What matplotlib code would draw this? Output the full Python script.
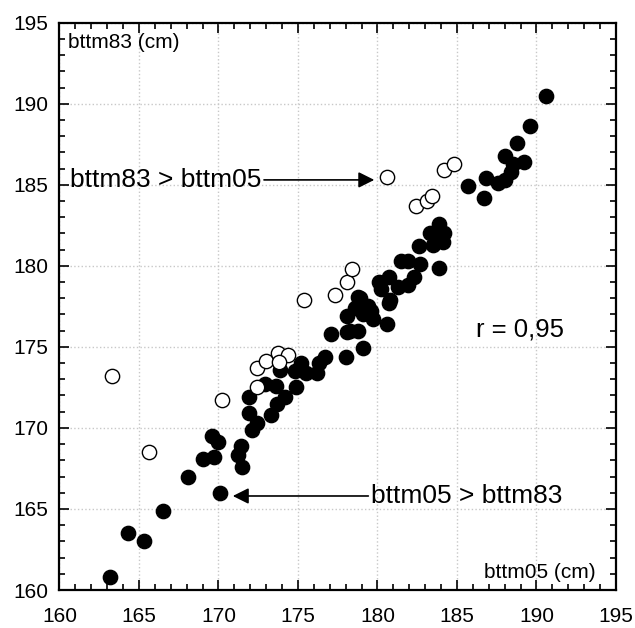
import numpy as np
import matplotlib
matplotlib.use("Agg")
import matplotlib.pyplot as plt
from matplotlib.ticker import MultipleLocator

plt.rcParams['font.family'] = ['Liberation Sans', 'DejaVu Sans']

# filled circles: bttm05 (x) vs bttm83 (y)
filled_x = [163.2, 164.3, 165.3, 166.5, 168.1, 170.1, 169.0, 169.7, 169.6, 170.0,
            171.4, 171.2, 171.5, 171.9, 171.9, 172.4, 172.1, 172.9, 173.6, 174.2,
            173.7, 173.3, 173.9, 174.85, 174.8, 175.2, 175.5, 176.2, 176.3, 176.7,
            177.1, 178.0, 178.1, 178.1, 179.1, 180.6, 178.25, 178.8, 178.6, 178.9,
            179.1, 179.6, 179.7, 179.4, 180.8, 180.7, 180.1, 180.2, 180.7, 181.3,
            181.9, 182.3, 181.5, 181.9, 182.65, 183.9, 182.6, 183.5, 184.1, 183.9,
            184.2, 183.3, 183.75, 185.7, 186.7, 186.8, 187.6, 188.0, 188.4, 188.5,
            188.0, 189.2, 188.8, 189.6, 190.6, 178.8]
filled_y = [160.8, 163.5, 163.0, 164.9, 167.0, 166.0, 168.1, 168.2, 169.5, 169.1,
            168.9, 168.3, 167.6, 171.9, 170.9, 170.3, 169.9, 172.7, 172.6, 171.9,
            171.5, 170.8, 173.6, 172.5, 173.5, 174.0, 173.4, 173.4, 174.0, 174.4,
            175.8, 174.4, 175.9, 176.9, 174.9, 176.4, 176.0, 176.0, 177.4, 178.0,
            177.0, 177.2, 176.7, 177.5, 177.9, 177.7, 179.0, 178.6, 179.3, 178.7,
            178.8, 179.3, 180.3, 180.3, 180.1, 179.85, 181.2, 181.3, 181.5, 182.6,
            182.0, 182.05, 181.6, 184.9, 184.2, 185.4, 185.1, 185.3, 185.8, 186.3,
            186.8, 186.4, 187.6, 188.6, 190.45, 178.1]

# open circles: bttm83 > bttm05
open_x = [163.3, 165.6, 170.2, 172.4, 172.4, 173.0, 173.75, 174.4, 173.8, 175.4,
          177.3, 178.1, 178.4, 180.6, 182.45, 183.1, 183.45, 184.2, 184.8]
open_y = [173.2, 168.5, 171.7, 172.5, 173.7, 174.1, 174.65, 174.5, 174.05, 177.9,
          178.2, 179.0, 179.8, 185.5, 183.7, 184.0, 184.3, 185.9, 186.3]

r_text = "r = 0,95"

fig = plt.figure(figsize=(6.35, 6.28), dpi=100)
ax = fig.add_axes([0.0937, 0.0605, 0.8763, 0.9034])

ax.plot(filled_x, filled_y, 'o', ms=10.3, mfc='black', mec='black', zorder=3)
ax.plot(open_x, open_y, 'o', ms=10.3, mfc='white', mec='black', mew=1.0, zorder=3)

ax.set_xlim(160, 195)
ax.set_ylim(160, 195)
ax.xaxis.set_major_locator(MultipleLocator(5))
ax.yaxis.set_major_locator(MultipleLocator(5))
ax.xaxis.set_minor_locator(MultipleLocator(1))
ax.yaxis.set_minor_locator(MultipleLocator(1))
ax.tick_params(which='both', direction='in', top=True, right=True, width=1.2,
               labelsize=15)
ax.tick_params(which='major', length=7)
ax.tick_params(which='minor', length=4)
ax.tick_params(axis='x', pad=12)
ax.tick_params(axis='y', pad=8)
for s in ax.spines.values():
    s.set_linewidth(1.6)
ax.grid(True, which='major', color='#c8c8c8', linestyle=':', linewidth=1.0)
ax.set_axisbelow(True)

ax.text(160.55, 193.75, "bttm83 (cm)", fontsize=15, va='center', ha='left')
ax.text(193.7, 161.1, "bttm05 (cm)", fontsize=15, va='center', ha='right')
ax.text(186.2, 176.05, r_text, fontsize=18.5, va='center', ha='left')

ax.annotate("bttm83 > bttm05", xy=(179.8, 185.3), xytext=(160.65, 185.3),
            fontsize=19, va='center', ha='left',
            arrowprops=dict(arrowstyle='-|>', color='black', lw=1.2,
                            mutation_scale=24, shrinkA=0, shrinkB=0))
ax.annotate("bttm05 > bttm83", xy=(170.9, 165.8), xytext=(179.6, 165.8),
            fontsize=19, va='center', ha='left',
            arrowprops=dict(arrowstyle='-|>', color='black', lw=1.2,
                            mutation_scale=24, shrinkA=0, shrinkB=0))

plt.savefig("out.png", dpi=100)
